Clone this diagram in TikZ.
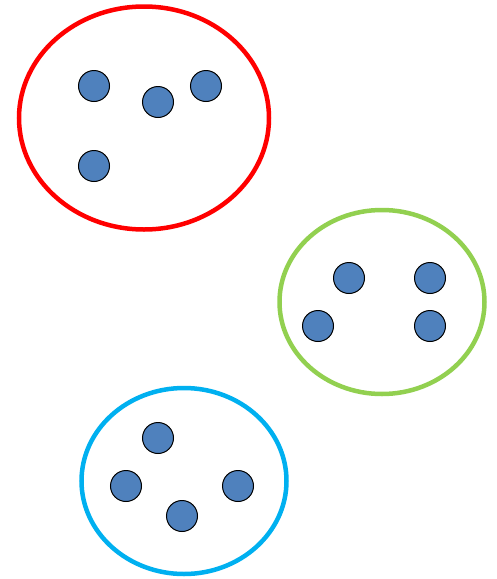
\documentclass[tikz,border=0pt]{standalone}
\usepackage{tikz}
\usetikzlibrary{shapes.geometric}
\definecolor{dotblue}{RGB}{79,129,189}
\definecolor{ringred}{RGB}{255,0,0}
\definecolor{ringgreen}{RGB}{146,208,80}
\definecolor{ringblue}{RGB}{0,176,240}

\begin{document}
\begin{tikzpicture}[
  x=1pt, y=-1pt,
  ring/.style={draw, ellipse, line width=4.5pt, inner sep=0pt},
  pt/.style={circle, draw=black, line width=1pt, fill=dotblue,
             minimum size=31pt, inner sep=0pt},
]
\useasboundingbox (0,0) rectangle (496,579);

%% ---- groups ----
\node[ring, draw=ringred,   minimum width=250pt, minimum height=223pt] (gr) at (144,118) {};
\node[ring, draw=ringgreen, minimum width=205pt, minimum height=184pt] (gg) at (382,302) {};
\node[ring, draw=ringblue,  minimum width=205pt, minimum height=186pt] (gb) at (184,481) {};

%% ---- points ----
\foreach \n/\x/\y in {r1/94/86, r2/158/102, r3/206/86, r4/94/166,
                      g1/349/278, g2/430/278, g3/318/326, g4/430/326,
                      b1/158/438, b2/126/486, b3/238/486, b4/182/516}{
  \node[pt] (\n) at (\x,\y) {};
}

\end{tikzpicture}
\end{document}
